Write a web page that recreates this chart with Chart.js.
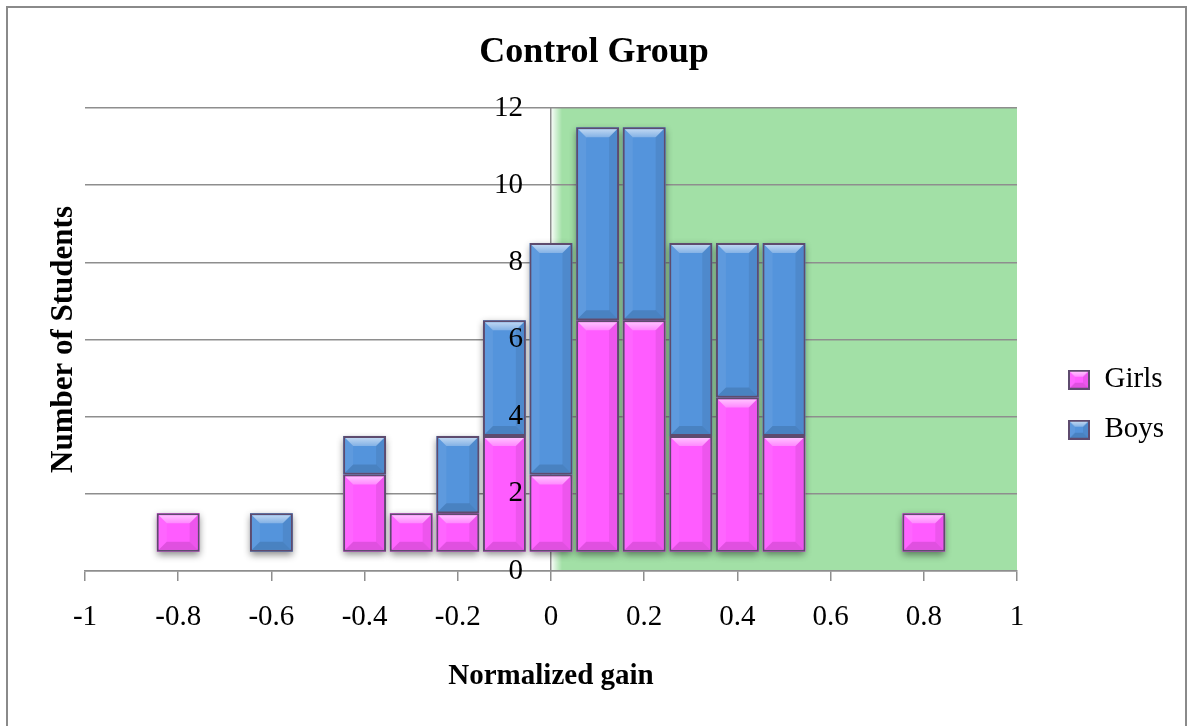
<!DOCTYPE html>
<html>
<head>
<meta charset="utf-8">
<script src="https://cdn.jsdelivr.net/npm/chart.js@4.4.1/dist/chart.umd.min.js"></script>
<style>
  html, body { margin: 0; padding: 0; background: #fff; overflow: hidden; }
  canvas { display: block; }
</style>
</head>
<body>
<canvas id="chart" width="1188" height="726"></canvas>
<script>
// Normalized-gain bins and head counts per bin
const gainBins = [-0.8, -0.6, -0.4, -0.3, -0.2, -0.1, 0, 0.1, 0.2, 0.3, 0.4, 0.5, 0.8];
const girls    = [1, 0, 2, 1, 1, 3, 2, 6, 6, 3, 4, 3, 1];
const boys     = [0, 1, 1, 0, 2, 3, 6, 5, 5, 5, 4, 5, 0];

// Columns rise from half a student above the axis
const barFloor = 0.5;

// Axis ticks
const xTickValues = [-1, -0.8, -0.6, -0.4, -0.2, 0, 0.2, 0.4, 0.6, 0.8, 1];
const yTickValues = [0, 2, 4, 6, 8, 10, 12];

// Shaded region of positive gain
const zoneFrom = 0;
const zoneTo = 1;

// Count labels sit a little left of the zero-gain line
const yLabelAnchor = -0.06;

const SERIF = "'Liberation Serif', 'Times New Roman', serif";
const GIRLS_FILL = '#ff5cff';
const BOYS_FILL = '#5494dc';
const BAR_EDGE = '#5e4b6e';
const GRID = '#8e8e8e';
const legendDrop = 53.5;
const legendInset = 30;

const girlsBars = gainBins
  .map((g, i) => girls[i] ? { x: g, y: [barFloor, barFloor + girls[i]] } : null)
  .filter(Boolean);
const boysBars = gainBins
  .map((g, i) => boys[i] ? { x: g, y: [barFloor + girls[i], barFloor + girls[i] + boys[i]] } : null)
  .filter(Boolean);

// Page background, frame and the green positive-gain zone (under the grid)
const frameAndZone = {
  id: 'frameAndZone',
  beforeDraw(chart) {
    const { ctx, width, height, chartArea, scales } = chart;
    const xs = scales.x;
    ctx.save();
    ctx.fillStyle = '#fff';
    ctx.fillRect(0, 0, width, height);
    const x0 = xs.getPixelForValue(zoneFrom);
    const x1 = xs.getPixelForValue(zoneTo);
    const h = chartArea.bottom - chartArea.top;
    ctx.fillStyle = '#a2e0a6';
    ctx.fillRect(x0, chartArea.top, x1 - x0, h);
    const fade = ctx.createLinearGradient(x0, 0, x0 + 11, 0);
    fade.addColorStop(0, 'rgba(255,255,255,0.95)');
    fade.addColorStop(1, 'rgba(255,255,255,0)');
    ctx.fillStyle = fade;
    ctx.fillRect(x0, chartArea.top, 11, h);
    ctx.strokeStyle = '#8a8a8a';
    ctx.lineWidth = 2;
    ctx.strokeRect(7, 7, width - 9, height + 40);
    ctx.restore();
  }
};

function poly(ctx, pts, style) {
  ctx.beginPath();
  ctx.moveTo(pts[0][0], pts[0][1]);
  for (let i = 1; i < pts.length; i++) ctx.lineTo(pts[i][0], pts[i][1]);
  ctx.closePath();
  ctx.fillStyle = style;
  ctx.fill();
}

// Light top facet, darker bottom facet, faint side facets
function drawBevel(ctx, L, T, R, B, size) {
  const s = Math.min(size, (R - L) / 2, (B - T) / 2);
  const topShade = ctx.createLinearGradient(0, T, 0, T + s);
  topShade.addColorStop(0, 'rgba(255,255,255,0.62)');
  topShade.addColorStop(1, 'rgba(255,255,255,0.28)');
  poly(ctx, [[L, T], [R, T], [R - s, T + s], [L + s, T + s]], topShade);
  poly(ctx, [[L, B], [R, B], [R - s, B - s], [L + s, B - s]], 'rgba(0,0,0,0.12)');
  poly(ctx, [[L, T], [L + s, T + s], [L + s, B - s], [L, B]], 'rgba(255,255,255,0.06)');
  poly(ctx, [[R, T], [R - s, T + s], [R - s, B - s], [R, B]], 'rgba(0,0,0,0.07)');
}

// Small bevelled swatch used as a legend marker
function makeSwatch(fill, w, h) {
  const c = document.createElement('canvas');
  c.width = w;
  c.height = h;
  const g = c.getContext('2d');
  g.fillStyle = BAR_EDGE;
  g.fillRect(0, 0, w, h);
  g.fillStyle = fill;
  g.fillRect(2, 2, w - 4, h - 4);
  drawBevel(g, 2, 2, w - 2, h - 2, 5);
  return c;
}

function barBoxes(chart) {
  const out = [];
  chart.getSortedVisibleDatasetMetas().forEach(meta => {
    if (meta.type !== 'bar') return;
    const ds = chart.data.datasets[meta.index];
    meta.data.forEach(el => {
      const p = el.getProps(['x', 'y', 'base', 'width'], true);
      out.push({
        left: p.x - p.width / 2,
        right: p.x + p.width / 2,
        top: Math.min(p.y, p.base),
        bottom: Math.max(p.y, p.base),
        fill: ds.backgroundColor,
        edge: ds.borderWidth
      });
    });
  });
  return out;
}

// Soft drop shadow under each column, and a bevelled face on top of it
const bevelledBars = {
  id: 'bevelledBars',
  beforeDatasetsDraw(chart) {
    const ctx = chart.ctx;
    ctx.save();
    barBoxes(chart).forEach(b => {
      ctx.shadowColor = 'rgba(0,0,0,0.45)';
      ctx.shadowBlur = 7;
      ctx.shadowOffsetX = 0;
      ctx.shadowOffsetY = 3;
      ctx.fillStyle = b.fill;
      ctx.fillRect(b.left, b.top, b.right - b.left, b.bottom - b.top);
    });
    ctx.restore();
  },
  afterDatasetsDraw(chart) {
    const ctx = chart.ctx;
    ctx.save();
    barBoxes(chart).forEach(b => {
      drawBevel(ctx, b.left + b.edge, b.top + b.edge, b.right - b.edge, b.bottom - b.edge, 8);
    });
    ctx.restore();
  }
};

// Put the legend a fixed inset right of the plot, beside the middle of the frame
const legendPlacement = {
  id: 'legendPlacement',
  afterLayout(chart) {
    const lg = chart.legend;
    if (!lg) return;
    const w = lg.right - lg.left;
    lg.left = chart.chartArea.right + legendInset;
    lg.right = lg.left + w;
    lg.top += legendDrop;
    lg.bottom += legendDrop;
  }
};

Chart.defaults.color = '#000';
Chart.defaults.font.family = SERIF;

const swatches = [makeSwatch(GIRLS_FILL, 22, 20), makeSwatch(BOYS_FILL, 22, 20)];

new Chart(document.getElementById('chart'), {
  type: 'bar',
  data: {
    datasets: [
      {
        label: 'Girls',
        data: girlsBars,
        backgroundColor: GIRLS_FILL,
        borderColor: BAR_EDGE,
        borderWidth: 2,
        borderSkipped: false,
        grouped: false,
        xAxisID: 'x',
        yAxisID: 'y'
      },
      {
        label: 'Boys',
        data: boysBars,
        backgroundColor: BOYS_FILL,
        borderColor: BAR_EDGE,
        borderWidth: 2,
        borderSkipped: false,
        grouped: false,
        xAxisID: 'x',
        yAxisID: 'y'
      }
    ]
  },
  options: {
    responsive: false,
    animation: false,
    devicePixelRatio: 1,
    layout: { padding: { left: 14, right: 14, top: 8, bottom: 31.6 } },
    datasets: { bar: { barPercentage: 0.92, categoryPercentage: 1 } },
    plugins: {
      title: {
        display: true,
        text: 'Control Group',
        font: { family: SERIF, size: 36, weight: 'bold' },
        padding: { top: 23.4, bottom: 33.4 }
      },
      legend: {
        position: 'right',
        labels: {
          font: { family: SERIF, size: 29 },
          boxWidth: 22,
          boxHeight: 20,
          usePointStyle: true,
          pointStyleWidth: 22,
          padding: 21,
          generateLabels: chart =>
            Chart.defaults.plugins.legend.labels.generateLabels(chart).map((item, i) => {
              item.pointStyle = swatches[i];
              return item;
            })
        }
      },
      tooltip: { enabled: false }
    },
    scales: {
      x: {
        type: 'linear',
        position: 'bottom',
        min: -1,
        max: 1,
        offset: false,
        afterBuildTicks: s => { s.ticks = xTickValues.map(v => ({ value: v })); },
        ticks: {
          font: { family: SERIF, size: 29 },
          padding: 19,
          maxRotation: 0,
          autoSkip: false,
          callback: v => String(v)
        },
        grid: {
          offset: false,
          drawOnChartArea: false,
          drawTicks: true,
          tickLength: 10,
          color: GRID,
          lineWidth: 1.5
        },
        border: { display: true, color: GRID, width: 1.5 },
        title: {
          display: true,
          text: 'Normalized gain',
          font: { family: SERIF, size: 29, weight: 'bold' },
          padding: { top: 5.8, bottom: 0 }
        }
      },
      y: {
        type: 'linear',
        position: { x: 0 },
        min: 0,
        max: 12,
        afterBuildTicks: s => { s.ticks = yTickValues.map(v => ({ value: v })); },
        ticks: { display: false },
        grid: { drawTicks: false, color: GRID, lineWidth: 1.5 },
        border: { display: true, color: GRID, width: 1.5 }
      },
      yLabels: {
        type: 'linear',
        axis: 'y',
        position: { x: yLabelAnchor },
        min: 0,
        max: 12,
        afterBuildTicks: s => { s.ticks = yTickValues.map(v => ({ value: v })); },
        ticks: { font: { family: SERIF, size: 29 }, autoSkip: false, z: 2 },
        grid: { display: false, drawTicks: false },
        border: { display: false }
      },
      yTitle: {
        type: 'linear',
        axis: 'y',
        position: 'left',
        grid: { display: false, drawTicks: false },
        border: { display: false },
        ticks: { display: false },
        title: {
          display: true,
          text: 'Number of Students',
          font: { family: SERIF, size: 31, weight: 'bold' },
          padding: { top: 31.4, bottom: 2.4 }
        }
      },
      legendGap: {
        type: 'linear',
        axis: 'y',
        position: 'right',
        grid: { display: false, drawTicks: false },
        border: { display: false },
        ticks: { display: false },
        title: {
          display: true,
          text: '',
          font: { size: 10 },
          padding: { top: 29, bottom: 0 }
        }
      }
    }
  },
  plugins: [frameAndZone, bevelledBars, legendPlacement]
});
</script>
</body>
</html>
